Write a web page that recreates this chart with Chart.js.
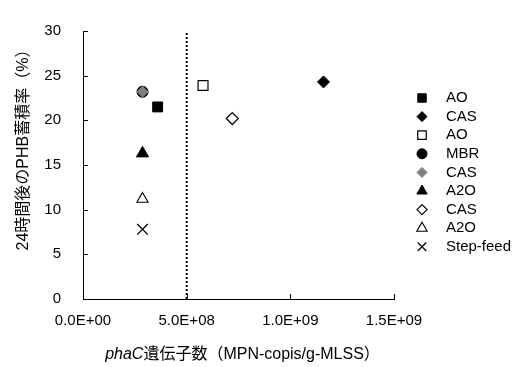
<!DOCTYPE html>
<html><head><meta charset="utf-8">
<script src="https://cdn.jsdelivr.net/npm/chart.js@4/dist/chart.umd.min.js"></script>
<style>html,body{margin:0;padding:0;background:#fff}</style>
</head><body>
<canvas id="c" width="526" height="367"></canvas>
<script>
// ---- data ----
const seriesNames = ['AO', 'CAS', 'AO', 'MBR', 'CAS', 'A2O', 'CAS', 'A2O', 'Step-feed'];
const phaCCopies = [3.6e8, 1.16e9, 5.79e8, 2.87e8, 2.87e8, 2.87e8, 7.2e8, 2.87e8, 2.87e8];
const phbAccumulation = [21.5, 24.3, 23.9, 23.2, 23.2, 16.3, 20.2, 11.2, 7.8];
const xTickLabels = ['0.0E+00', '5.0E+08', '1.0E+09', '1.5E+09'];
const yTickLabels = ['0', '5', '10', '15', '20', '25', '30'];
const thresholdX = 5e8;
const yTitle = '24時間後のPHB蓄積率（%）';
const xTitleItalic = 'phaC';
const xTitleRest = '遺伝子数（MPN-copis/g-MLSS）';

// ---- styles ----
const markerStyles = [
  {ps: 'rect', bg: '#000', bc: '#000', r: 7, lr: 6, bw: 1},
  {ps: 'rectRot', bg: '#000', bc: '#000', r: 6, lr: 5, bw: 1},
  {ps: 'rect', bg: '#fff', bc: '#000', r: 7, lr: 6, bw: 1.2},
  {ps: 'circle', bg: '#000', bc: '#000', r: 5.5, lr: 5, bw: 1},
  {ps: 'rectRot', bg: '#808080', bc: '#808080', r: 5.5, lr: 5, bw: 1, order: -1},
  {ps: 'triangle', bg: '#000', bc: '#000', r: 7, lr: 6, bw: 1},
  {ps: 'rectRot', bg: '#fff', bc: '#000', r: 6, lr: 5, bw: 1.2},
  {ps: 'triangle', bg: '#fff', bc: '#000', r: 6.5, lr: 6, bw: 1.1},
  {ps: 'crossRot', bg: '#000', bc: '#000', r: 7.5, lr: 6, bw: 1.3}
];
const FONT = "'Liberation Sans', Arial, 'Noto Sans CJK JP', sans-serif";
Chart.defaults.font.family = FONT;
Chart.defaults.font.size = 15;
Chart.defaults.color = '#000';

const datasets = seriesNames.map((name, i) => {
  const s = markerStyles[i];
  return {
    label: name,
    data: [{x: phaCCopies[i], y: phbAccumulation[i]}],
    pointStyle: s.ps, backgroundColor: s.bg, borderColor: s.bc,
    pointRadius: s.r, pointHoverRadius: s.r, borderWidth: s.bw,
    order: s.order || 0
  };
});
datasets.push({
  label: '_threshold',
  data: [{x: thresholdX, y: 0}, {x: thresholdX, y: 30}],
  showLine: true, pointRadius: 0, borderColor: '#000', borderWidth: 2,
  borderDash: [2, 2], order: 5
});

const insideTicks = {
  id: 'insideTicks',
  afterDraw(chart) {
    const ctx = chart.ctx, xs = chart.scales.x, ys = chart.scales.y;
    ctx.save();
    ctx.strokeStyle = '#000'; ctx.lineWidth = 1;
    ys.ticks.forEach(t => {
      const py = Math.round(ys.getPixelForValue(t.value)) + 0.5;
      ctx.beginPath(); ctx.moveTo(xs.left, py); ctx.lineTo(xs.left + 5, py); ctx.stroke();
    });
    xs.ticks.forEach(t => {
      const px = Math.round(xs.getPixelForValue(t.value)) + 0.5;
      ctx.beginPath(); ctx.moveTo(px, ys.bottom); ctx.lineTo(px, ys.bottom - 5); ctx.stroke();
    });
    ctx.restore();
  }
};

const titlesAndLegend = {
  id: 'titlesAndLegend',
  afterDraw(chart) {
    const ctx = chart.ctx, area = chart.chartArea;
    ctx.save();
    ctx.fillStyle = '#000';
    ctx.textBaseline = 'middle';
    // x title
    ctx.font = 'italic 16px ' + FONT;
    const w1 = ctx.measureText(xTitleItalic).width;
    ctx.font = '16px ' + FONT;
    const w2 = ctx.measureText(xTitleRest).width;
    let x0 = (area.left + area.right) / 2 + 4 - (w1 + w2) / 2;
    const ty = 355;
    ctx.textAlign = 'left';
    ctx.font = 'italic 16px ' + FONT;
    ctx.fillText(xTitleItalic, x0, ty);
    ctx.font = '16px ' + FONT;
    ctx.fillText(xTitleRest, x0 + w1, ty);
    // y title
    ctx.save();
    ctx.translate(24, 146);
    ctx.rotate(-Math.PI / 2);
    ctx.textAlign = 'center';
    ctx.fillText(yTitle, 0, 0);
    ctx.restore();
    // legend
    ctx.font = '15px ' + FONT;
    const lx = 422, tx = 446, ly0 = 98, dy = 18.6;
    seriesNames.forEach((name, i) => {
      const s = markerStyles[i];
      const y = ly0 + dy * i;
      ctx.fillStyle = s.bg; ctx.strokeStyle = s.bc; ctx.lineWidth = s.bw;
      Chart.helpers.drawPoint(ctx, {pointStyle: s.ps, radius: s.lr, borderWidth: s.bw, rotation: 0}, lx, y);
      ctx.fillStyle = '#000';
      ctx.textAlign = 'left';
      ctx.fillText(name, tx, y);
    });
    ctx.restore();
  }
};

new Chart(document.getElementById('c'), {
  type: 'scatter',
  data: {datasets},
  options: {
    responsive: false, animation: false, devicePixelRatio: 1,
    layout: {padding: {top: 16, right: 132, left: 0, bottom: 0}},
    plugins: {legend: {display: false}, tooltip: {enabled: false}},
    scales: {
      x: {
        type: 'linear', min: 0, max: 1.5e9,
        ticks: {stepSize: 5e8, padding: 13, maxRotation: 0,
          callback: (v, i) => xTickLabels[i]},
        grid: {drawOnChartArea: false, drawTicks: false},
        border: {color: '#000', width: 1},
        afterFit: s => { s.height = 68; }
      },
      y: {
        min: 0, max: 30,
        ticks: {stepSize: 5, padding: 22, callback: (v, i) => yTickLabels[i]},
        grid: {drawOnChartArea: false, drawTicks: false},
        border: {color: '#000', width: 1},
        afterFit: s => { s.width = 83; }
      }
    }
  },
  plugins: [insideTicks, titlesAndLegend]
});
</script>
</body></html>
